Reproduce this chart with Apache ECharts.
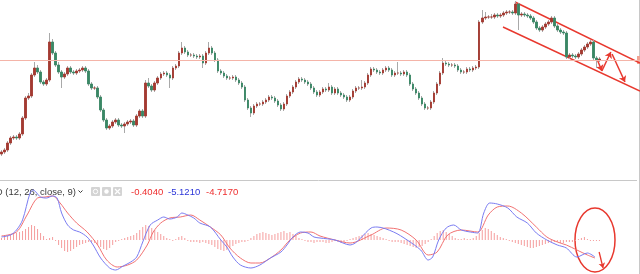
<!DOCTYPE html>
<html><head><meta charset="utf-8">
<script src="https://cdn.jsdelivr.net/npm/echarts@6/dist/echarts.min.js"></script>
<style>html,body{margin:0;padding:0;background:#fff}#c{width:640px;height:274px}</style>
</head><body><div id="c"></div>
<script>
// ---- price candles (arbitrary price units) ----
const opens = [16,18,20,27,32,33,32,36,52,72,
 74,95,102,98,88,86,90,128,117,105,
 98,93,96,102,98,97,99,100,102,99,
 86,82,82,73,60,50,42,44,48,50,
 45,44,46,48,49,45,54,59,54,87,
 84,80,87,92,96,97,95,92,102,104,
 117,122,118,115,115,114,113,114,107,117,
 122,117,110,99,97,94,92,92,93,90,
 87,83,70,62,57,64,66,66,68,70,
 73,72,69,65,61,66,74,78,83,88,
 91,90,88,86,82,78,75,78,81,80,
 83,77,81,77,75,73,70,73,79,82,
 82,83,87,95,101,100,98,97,100,102,
 100,95,97,97,96,98,95,86,81,77,
 72,66,62,62,68,77,86,97,107,106,
 105,105,104,100,98,98,101,100,102,103,
 148,152,153,153,153,155,154,155,157,158,
 158,157,166,155,156,155,154,152,148,142,
 140,143,146,148,152,144,140,138,137,113,
 115,114,113,116,120,123,126,128,112,110];
const closes = [18,20,27,32,33,32,36,52,72,74,
 95,102,98,88,86,90,128,117,105,98,
 93,96,102,98,97,99,100,102,99,86,
 82,82,73,60,50,42,44,48,50,45,
 44,46,48,49,45,54,59,54,87,84,
 80,87,92,96,97,95,92,102,104,117,
 122,118,115,115,114,113,114,107,117,122,
 117,110,99,97,94,92,92,93,90,87,
 83,70,62,57,64,66,66,68,70,73,
 72,69,65,61,66,74,78,83,88,91,
 90,88,86,82,78,75,78,81,80,83,
 77,81,77,75,73,70,73,79,82,82,
 83,87,95,101,100,98,97,100,102,100,
 95,97,97,96,98,95,86,81,77,72,
 66,62,62,68,77,86,97,107,106,105,
 105,104,100,98,98,101,100,102,103,148,
 152,153,153,153,155,154,155,157,158,158,
 157,166,155,156,155,154,152,148,142,140,
 143,146,148,152,144,140,138,137,113,115,
 114,113,116,120,123,126,128,112,110,111];
const lows = [14,16,18,25,30,30,30,34,50,70,
 72,93,96,86,84,84,88,115,103,96,
 82,91,94,96,95,95,97,98,97,84,
 80,80,71,58,48,40,40,42,46,43,
 42,37,44,46,43,43,52,52,52,82,
 78,78,85,90,94,93,82,90,100,102,
 115,116,113,113,112,111,111,102,105,115,
 115,108,97,95,92,90,90,90,88,85,
 81,68,60,53,55,62,64,64,66,68,
 70,67,63,59,59,64,72,76,81,86,
 88,86,84,80,76,73,73,76,78,78,
 75,75,75,73,71,68,68,71,77,80,
 80,81,85,93,98,96,95,95,98,98,
 93,93,95,94,94,93,84,79,75,70,
 64,60,60,60,66,75,84,95,104,103,
 103,102,98,96,96,96,98,98,100,101,
 146,150,151,151,151,152,152,153,155,156,
 155,155,140,153,153,152,150,146,140,138,
 138,141,144,146,142,138,136,135,111,111,
 112,111,111,114,118,121,124,110,102,108];
const highs = [20,22,29,34,35,35,38,54,74,77,
 97,108,105,100,90,92,137,131,119,108,
 100,98,104,104,100,101,102,104,104,101,
 88,84,84,75,62,52,46,50,52,52,
 47,48,50,51,51,56,61,61,90,92,
 86,89,94,98,99,99,97,104,106,119,
 128,124,120,117,117,116,116,116,119,128,
 124,119,112,101,99,96,94,95,95,92,
 89,85,72,64,66,68,68,70,72,75,
 75,74,71,67,68,76,80,85,90,93,
 93,92,90,88,84,80,80,83,83,87,
 85,83,83,79,77,75,75,81,84,84,
 90,89,97,103,103,102,100,102,104,104,
 102,99,108,99,100,100,97,88,83,79,
 74,68,64,70,79,88,99,112,109,108,
 107,107,106,102,100,103,103,104,105,150,
 160,158,155,156,157,157,157,159,160,160,
 160,169,167,158,158,157,156,154,150,144,
 145,148,150,154,154,146,142,140,139,117,
 117,116,118,122,125,128,130,130,114,113];
const referenceLevel = 110;

// ---- MACD (12, 26, close, 9) ----
const macdLine = [[0,0.9],[3,1.5],[5,3.0],[7,6.0],[9.5,14.1],[10.5,15.0],[13,12.9],[15,12.6],[17,13.2],[18.5,12.6],
 [20,8.1],[22,4.5],[24,3.0],[26,2.4],[28.5,0.9],[30.5,-1.5],[33,-5.4],[36,-8.4],[38,-9.0],[40.5,-7.8],
 [43,-6.6],[45,-5.1],[47,-0.6],[49.5,4.5],[52,6.0],[54,6.9],[56,6.3],[58.5,6.9],[60,8.1],[62,7.5],
 [64,6.6],[66,5.1],[69.5,3.9],[73,0],[75,-2.1],[77,-5.1],[79.5,-7.5],[83,-8.4],[86,-7.5],[89.5,-5.4],
 [93,-3.6],[95,-1.5],[97,0.9],[99.5,2.4],[102,2.1],[104,0.9],[106,0.6],[111,0],[116,-1.5],[123,3.6],
 [125,3.9],[130.5,2.4],[135,0],[139.5,-3.0],[142,-6.0],[143.5,-5.1],[145.5,0],[148,3.6],[150.5,4.5],[153,3.0],
 [156,2.4],[158.5,2.1],[160.5,8.1],[162.5,11.1],[165,10.8],[168.5,9.6],[171.5,6.9],[175,5.1],[178,2.1],[181.5,0],
 [185,-1.5],[188,-2.4],[191.5,-5.1],[195,-3.9],[197.5,-5.1]];
const signalLine = [[0,1.2],[5,2.4],[8.5,7.5],[12,12.6],[14.5,12.9],[17,13.2],[19.5,11.1],[22,8.1],[25,5.1],[28.5,2.4],
 [32,-1.5],[35,-6.0],[38.5,-8.1],[42,-7.5],[45,-6.0],[48.5,-1.5],[50.5,2.4],[53,5.1],[56,6.6],[59.5,6.9],
 [63,7.5],[66,6.0],[69.5,3.9],[73,1.5],[76,-2.4],[79.5,-5.4],[83,-6.9],[86,-6.9],[89.5,-5.4],[93,-3.0],
 [96,0],[99.5,2.1],[103,2.4],[106,1.2],[111,0],[116,-0.9],[123,1.5],[128,3.6],[133,3.0],[138,0],
 [142,-4.5],[145,-3.6],[148.5,1.5],[153,3.0],[158.5,2.4],[162,7.5],[165,9.9],[168.5,10.2],[173,8.1],[178,3.9],
 [181.5,0.9],[185,-0.6],[188,-1.5],[191.5,-3.0],[195,-4.5],[197.5,-5.4]];
const histogram = [0.6,0.9,1.2,1.5,1.8,2.1,2.4,2.7,3.3,3.9,
 4.5,4.2,3.3,2.1,1.2,0.3,0.6,0.9,-0.3,-1.5,
 -2.4,-3.3,-3.6,-3.3,-2.7,-2.1,-1.5,-1.2,-0.9,-0.6,
 -0.6,-0.9,-1.5,-2.1,-2.7,-3.0,-2.4,-1.5,-0.6,-0.3,
 0.3,0.6,0.9,1.2,1.5,2.1,3.0,3.9,4.5,4.2,
 3.6,3.0,2.4,1.8,1.2,0.6,0.3,-0.3,0.3,0.9,
 1.2,0.6,-0.3,-0.6,-0.6,-0.6,-0.9,-0.6,-0.9,-1.2,
 -1.5,-2.1,-2.7,-3.0,-3.3,-3.0,-2.4,-1.8,-1.2,-0.9,
 -0.6,-0.6,-0.3,0.6,1.2,1.8,2.1,2.4,2.1,1.8,
 1.5,1.8,2.1,2.4,2.7,2.1,2.4,1.8,1.2,0.6,
 0.3,-0.3,-0.6,-0.6,-0.9,-0.6,-0.6,-0.6,-0.9,-0.9,
 -0.6,-0.3,-0.6,-0.9,-0.6,-0.3,0.3,0.6,0.9,1.2,
 1.5,1.8,2.1,1.8,1.5,1.2,0.9,0.6,0.3,-0.3,
 -0.6,-0.6,-0.6,-0.9,-1.2,-1.5,-1.8,-2.1,-2.4,-2.1,
 -1.8,-1.2,-0.6,0.3,1.2,2.1,2.7,3.0,2.4,1.8,
 1.2,0.6,0.3,0.3,0.6,0.3,0.3,0.6,1.2,2.1,
 3.0,3.6,3.3,2.7,2.1,1.5,0.9,0.6,0.3,-0.3,
 -0.6,-0.9,-1.2,-1.5,-1.8,-2.1,-2.4,-2.4,-2.1,-1.8,
 -1.5,-1.2,-0.9,-0.6,-0.6,-0.6,-0.9,-0.9,-0.6,-0.6,
 -0.6,-0.3,0.3,0.6,0.9,0.3,-0.3,-0.3,-0.3,-0.3];
const macdLabel = 'MACD (12, 26, close, 9)';
const macdValues = ['-0.4040', '-5.1210', '-4.7170'];

// ---- drawn annotations (bar-index, price) ----
const channelUpper = [[170.9,168],[212.5,107]];
const channelLower = [[166.9,143],[212.5,79]];
const projection = [[[198.2,111],[199.8,99]], [[199.8,99],[202.8,118]], [[203.2,116],[207.5,88]]];
const macdArrow = [[198.9,-3.6],[200.2,-8.4]];

const SLOTS = 213;
const categories = Array.from({length: SLOTS}, (_, i) => String(i));

const UP = '#a33a31', DOWN = '#3a8765', WICK = '#a9a9a9', ANN = '#e8382e';
const wickData = opens.map((o, i) => [o, closes[i], lows[i], highs[i]]);
const bodyData = opens.map((o, i) => [o, closes[i], Math.min(o, closes[i]), Math.max(o, closes[i])]);

const chart = echarts.init(document.getElementById('c'), null, {renderer: 'canvas'});
const hiddenAxis = {show: false};
chart.setOption({
  animation: false,
  backgroundColor: '#ffffff',
  grid: [
    {left: 0, right: 0, top: 0, height: 170},
    {left: 0, right: 0, top: 181, bottom: 0}
  ],
  xAxis: [
    {type: 'category', data: categories, gridIndex: 0, boundaryGap: true, ...hiddenAxis},
    {type: 'value', min: -0.5, max: SLOTS - 0.5, gridIndex: 0, ...hiddenAxis},
    {type: 'value', min: -0.5, max: SLOTS - 0.5, gridIndex: 1, ...hiddenAxis}
  ],
  yAxis: [
    {type: 'value', min: 0, max: 170, gridIndex: 0, ...hiddenAxis},
    {type: 'value', min: -10.2, max: 17.7, gridIndex: 1, ...hiddenAxis}
  ],
  series: [
    {type: 'candlestick', xAxisIndex: 0, yAxisIndex: 0, data: wickData, barWidth: 1,
     itemStyle: {color: WICK, color0: WICK, borderColor: WICK, borderColor0: WICK, borderWidth: 1},
     markLine: {silent: true, symbol: 'none', label: {show: false},
       lineStyle: {color: '#f4b4a8', width: 1, type: 'solid'}, data: [{yAxis: referenceLevel}]}},
    {type: 'candlestick', xAxisIndex: 0, yAxisIndex: 0, data: bodyData, barWidth: 2,
     itemStyle: {color: UP, color0: DOWN, borderColor: UP, borderColor0: DOWN, borderWidth: 0.9}},
    {type: 'lines', coordinateSystem: 'cartesian2d', xAxisIndex: 1, yAxisIndex: 0, silent: true,
     lineStyle: {color: ANN, width: 1.5, opacity: 1},
     data: [{coords: channelUpper}, {coords: channelLower}]},
    {type: 'lines', coordinateSystem: 'cartesian2d', xAxisIndex: 1, yAxisIndex: 0, silent: true,
     symbol: ['none', 'arrow'], symbolSize: 6,
     lineStyle: {color: ANN, width: 1.5, opacity: 1},
     data: projection.map(c => ({coords: c}))},
    {type: 'bar', xAxisIndex: 2, yAxisIndex: 1, barWidth: 1, silent: true,
     itemStyle: {color: '#f59d9d'},
     data: histogram.map((v, i) => [i, v])},
    {type: 'line', xAxisIndex: 2, yAxisIndex: 1, data: signalLine, smooth: 0.3, showSymbol: false,
     lineStyle: {color: '#f27272', width: 1}},
    {type: 'line', xAxisIndex: 2, yAxisIndex: 1, data: macdLine, smooth: 0.3, showSymbol: false,
     lineStyle: {color: '#7a7cf2', width: 1}},
    {type: 'lines', coordinateSystem: 'cartesian2d', xAxisIndex: 2, yAxisIndex: 1, silent: true,
     symbol: ['none', 'arrow'], symbolSize: 5,
     lineStyle: {color: ANN, width: 1.3, opacity: 1},
     data: [{coords: macdArrow}]}
  ],
  graphic: [
    {type: 'line', shape: {x1: 0, y1: 180.5, x2: 637, y2: 180.5}, style: {stroke: '#c8c8c8', lineWidth: 1}, silent: true},
    {type: 'line', shape: {x1: 639.5, y1: 0, x2: 639.5, y2: 274}, style: {stroke: '#c8c8c8', lineWidth: 1}, silent: true},
    {type: 'rect', shape: {x: 637, y: 56, width: 3, height: 8}, style: {fill: '#f0a494'}, silent: true},
    {type: 'text', x: 76, y: 192, style: {text: macdLabel, align: 'right', verticalAlign: 'middle',
      font: '9.5px "Liberation Sans"', fill: '#3a3a3a'}, silent: true},
    {type: 'polyline', shape: {points: [[78.5, 190.5], [80.5, 192.5], [82.5, 190.5]]}, style: {stroke: '#3a3a3a', lineWidth: 1, fill: null}, silent: true},
    {type: 'rect', shape: {x: 91, y: 187, width: 9, height: 9, r: 1}, style: {fill: '#d4d4d4'}, silent: true},
    {type: 'circle', shape: {cx: 95.5, cy: 191.5, r: 2.2}, style: {fill: null, stroke: '#ffffff', lineWidth: 1}, silent: true},
    {type: 'rect', shape: {x: 102, y: 187, width: 9, height: 9, r: 1}, style: {fill: '#d4d4d4'}, silent: true},
    {type: 'circle', shape: {cx: 106.5, cy: 191.5, r: 2.2}, style: {fill: '#ffffff'}, silent: true},
    {type: 'rect', shape: {x: 113, y: 187, width: 9, height: 9, r: 1}, style: {fill: '#d4d4d4'}, silent: true},
    {type: 'polyline', shape: {points: [[115, 189], [120, 194]]}, style: {stroke: '#ffffff', lineWidth: 1.2}, silent: true},
    {type: 'polyline', shape: {points: [[120, 189], [115, 194]]}, style: {stroke: '#ffffff', lineWidth: 1.2}, silent: true},
    {type: 'text', x: 131, y: 192, style: {text: macdValues[0], verticalAlign: 'middle', font: '9.5px "Liberation Sans"', fill: '#ee2d2d'}, silent: true},
    {type: 'text', x: 168, y: 192, style: {text: macdValues[1], verticalAlign: 'middle', font: '9.5px "Liberation Sans"', fill: '#2b35d8'}, silent: true},
    {type: 'text', x: 206, y: 192, style: {text: macdValues[2], verticalAlign: 'middle', font: '9.5px "Liberation Sans"', fill: '#ee2d2d'}, silent: true},
    {type: 'ellipse', shape: {cx: 595, cy: 240, rx: 20, ry: 32}, style: {fill: null, stroke: ANN, lineWidth: 1.5}, silent: true}
  ]
});
</script></body></html>
